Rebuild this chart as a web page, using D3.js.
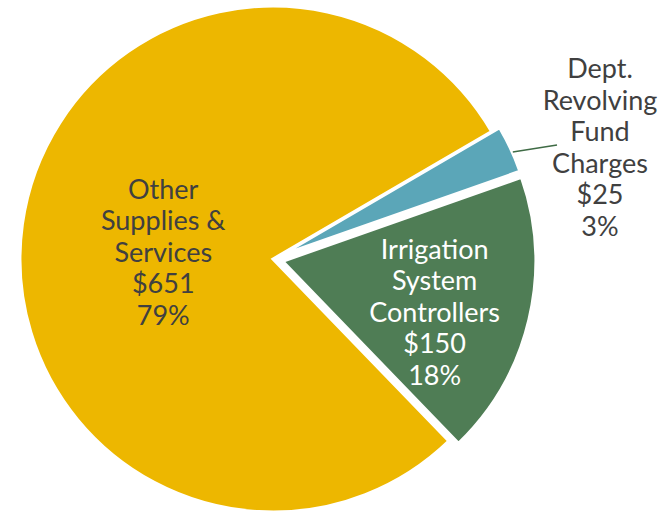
<!DOCTYPE html>
<html lang="en">
<head>
  <meta charset="UTF-8" />
  <title>Expenditures by Category</title>
  <script src="https://cdn.jsdelivr.net/npm/d3@7"></script>
  <style>
    body {
      margin: 0;
      background: #fff;
      font-family: Lato, "Open Sans", sans-serif;
    }
  </style>
</head>
<body>
  <svg id="pie"></svg>
  <script>
// Chart data
const categories = ["Other Supplies & Services", "Dept. Revolving Fund Charges", "Irrigation System Controllers"];
const labelLines = [["Other", "Supplies &", "Services"], ["Dept.", "Revolving", "Fund", "Charges"], ["Irrigation", "System", "Controllers"]];
const amounts = [651, 25, 150];
const colors = ["#EDB700", "#5BA6B8", "#4F7D55"];
const textColors = ["#404040", "#404040", "#ffffff"];

const width = 671, height = 511;
const cx = 273, cy = 259;
const radius = 253;
const fontSize = 27, lineHeight = 31.5;

const svg = d3.select("#pie")
  .attr("width", width)
  .attr("height", height)
  .style("display", "block");

const g = svg.append("g").attr("transform", `translate(${cx},${cy})`);

const data = categories.map((c, i) => ({ name: c, value: amounts[i], lines: labelLines[i], color: colors[i], text: textColors[i] }));
const total = d3.sum(amounts);

// start angle so the big slice sits on the left like the original
const pie = d3.pie()
  .sort(null)
  .value(d => d.value)
  .startAngle(136 * Math.PI / 180)
  .endAngle(496 * Math.PI / 180);

const arc = d3.arc().innerRadius(0).outerRadius(radius);
const arcs = pie(data);

// small slices are pulled out a bit
function explode(d, i) {
  if (i === 0) return [0, 0];
  const a = (d.startAngle + d.endAngle) / 2;
  const off = i === 1 ? 9 : 10;
  return [off * Math.sin(a), -off * Math.cos(a)];
}

g.selectAll("path.slice")
  .data(arcs)
  .enter()
  .append("path")
  .attr("class", "slice")
  .attr("d", arc)
  .attr("transform", (d, i) => `translate(${explode(d, i)})`)
  .attr("fill", d => d.data.color)
  .attr("stroke", "#fff")
  .attr("stroke-width", 3)
  .attr("stroke-linejoin", "miter");

// label anchor points (radius, angle nudge in degrees)
const labelPlace = [
  { r: 110, da: -4 },
  { r: 0, da: 0 },
  { r: 160, da: 5 }
];

function labelCenter(d, i) {
  const off = explode(d, i);
  if (i === 1) return [600 - cx, 147 - cy];
  const a = (d.startAngle + d.endAngle) / 2 + labelPlace[i].da * Math.PI / 180;
  const r = labelPlace[i].r;
  return [off[0] + r * Math.sin(a), off[1] - r * Math.cos(a)];
}

// leader line for the thin slice
const small = arcs[1];
const smallOff = explode(small, 1);
const midA = (small.startAngle + small.endAngle) / 2;
const p0 = [smallOff[0] + radius * Math.sin(midA), smallOff[1] - radius * Math.cos(midA)];
g.append("line")
  .attr("x1", p0[0] + 2)
  .attr("y1", p0[1] + 3)
  .attr("x2", 557 - cx)
  .attr("y2", 145 - cy)
  .attr("stroke", "#3F6B45")
  .attr("stroke-width", 1.5);

const labels = g.selectAll("text.label")
  .data(arcs)
  .enter()
  .append("text")
  .attr("class", "label")
  .attr("text-anchor", "middle")
  .attr("font-size", fontSize)
  .attr("fill", d => d.data.text);

labels.each(function (d, i) {
  const lines = d.data.lines.concat([
    "$" + d.data.value,
    Math.round(d.data.value / total * 100) + "%"
  ]);
  const [x, y] = labelCenter(d, i);
  const y0 = y - (lines.length - 1) * lineHeight / 2 + 0.37 * fontSize;
  d3.select(this).selectAll("tspan")
    .data(lines)
    .enter()
    .append("tspan")
    .attr("x", x)
    .attr("y", (t, k) => y0 + k * lineHeight)
    .text(t => t);
});
  </script>
</body>
</html>
